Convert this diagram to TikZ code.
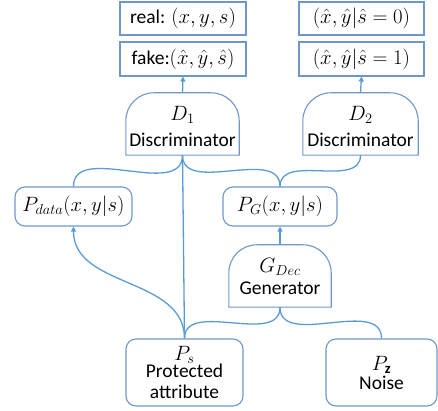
\documentclass[tikz,border=0pt]{standalone}
\usepackage{fontspec}
\setmainfont{Carlito}
\usetikzlibrary{arrows.meta}
\definecolor{lineblue}{RGB}{91,155,213}
\definecolor{boxblue}{RGB}{110,150,200}
\newcommand\mymath[1]{{\fontsize{21}{22}\selectfont$#1$}}
\begin{document}
\begin{tikzpicture}[x=1pt,y=1pt,
  font=\fontsize{19.5}{23}\selectfont,
  sqbox/.style={draw=boxblue,line width=1.1pt,minimum height=33pt,inner sep=0pt},
  rbox/.style={draw=boxblue,line width=1.1pt,rounded corners=10pt,inner sep=0pt,align=center},
  domebox/.style={inner sep=0pt},
  lbl/.style={inner sep=0pt},
  conn/.style={draw=lineblue,line width=1.3pt},
  arr/.style={conn,-{Triangle[width=5pt,length=5pt]}}
]
\useasboundingbox (0,0) rectangle (438,411);
% top boxes
\node[sqbox,minimum width=126pt] (real) at (183,392.5) {real: \mymath{(x,y,s)}};
\node[sqbox,minimum width=126pt,minimum height=34pt] (fake) at (183,352) {fake:\mymath{(\hat{x},\hat{y},\hat{s})}};
\node[sqbox,minimum width=125pt] (r0) at (361.5,392.5) {\mymath{(\hat{x},\hat{y}|\hat{s}=0)}};
\node[sqbox,minimum width=125pt,minimum height=34pt] (r1) at (361.5,352) {\mymath{(\hat{x},\hat{y}|\hat{s}=1)}};
% discriminators and generator (dome shapes)
\node[domebox,minimum width=113pt,minimum height=62pt] (d1) at (182.5,287) {};
\node[domebox,minimum width=115pt,minimum height=62pt] (d2) at (360.5,287) {};
\node[domebox,minimum width=102pt,minimum height=62pt] (g) at (280,135) {};
\foreach \n in {d1,d2,g}{
  \draw[draw=boxblue,line width=1.1pt] (\n.south west) -- ([yshift=-28pt]\n.north west)
    arc[start angle=180,end angle=90,radius=28pt] -- ([xshift=-28pt]\n.north east)
    arc[start angle=90,end angle=0,radius=28pt] -- (\n.south east) -- cycle;
}
\node[lbl] (d1a) at (182.5,296) {\mymath{D_1}};
\node[lbl] (d1b) at (182.5,271) {Discriminator};
\node[lbl] (d2a) at (360.5,296) {\mymath{D_2}};
\node[lbl] (d2b) at (360.5,271) {Discriminator};
\node[lbl] (ga) at (280,144) {\mymath{G_{Dec}}};
\node[lbl] (gb) at (280,123) {Generator};
% distribution boxes
\node[rbox,minimum width=117pt,minimum height=39pt] (pdata) at (73.5,204.5) {\mymath{P_{data}(x,y|s)}};
\node[rbox,minimum width=114pt,minimum height=39pt] (pg) at (280,204.5) {\mymath{P_{G}(x,y|s)}};
\node[rbox,minimum width=117pt,minimum height=67pt,font=\fontsize{19.5}{21.5}\selectfont] (ps) at (184.5,38.5) {\mymath{P_s}\\[-5pt]Protected\\attribute};
\node[rbox,minimum width=111pt,minimum height=67pt] (pz) at (381.5,38.5) {\mymath{P_{\mathbf{z}}}\\[-4pt]Noise};
% connectors
\draw[arr] (d1.north) -- (fake.south);
\draw[arr] (d2.north) -- (r1.south);
\draw[arr] (g.north) -- (pg.south);
\draw[conn] (d1.south) to[out=-90,in=90] (pdata.north);
\draw[conn] (d1.south) to[out=-90,in=90] (pg.north);
\draw[conn] (d2.south) to[out=-90,in=90] (pg.north);
\draw[conn] (d1.south) -- (ps.north);
\draw[arr] (ps.north) to[out=90,in=-90] (pdata.south);
\draw[conn] (ps.north) to[out=90,in=-90] (g.south);
\draw[conn] (pz.north) to[out=90,in=-90] (g.south);
\end{tikzpicture}
\end{document}
